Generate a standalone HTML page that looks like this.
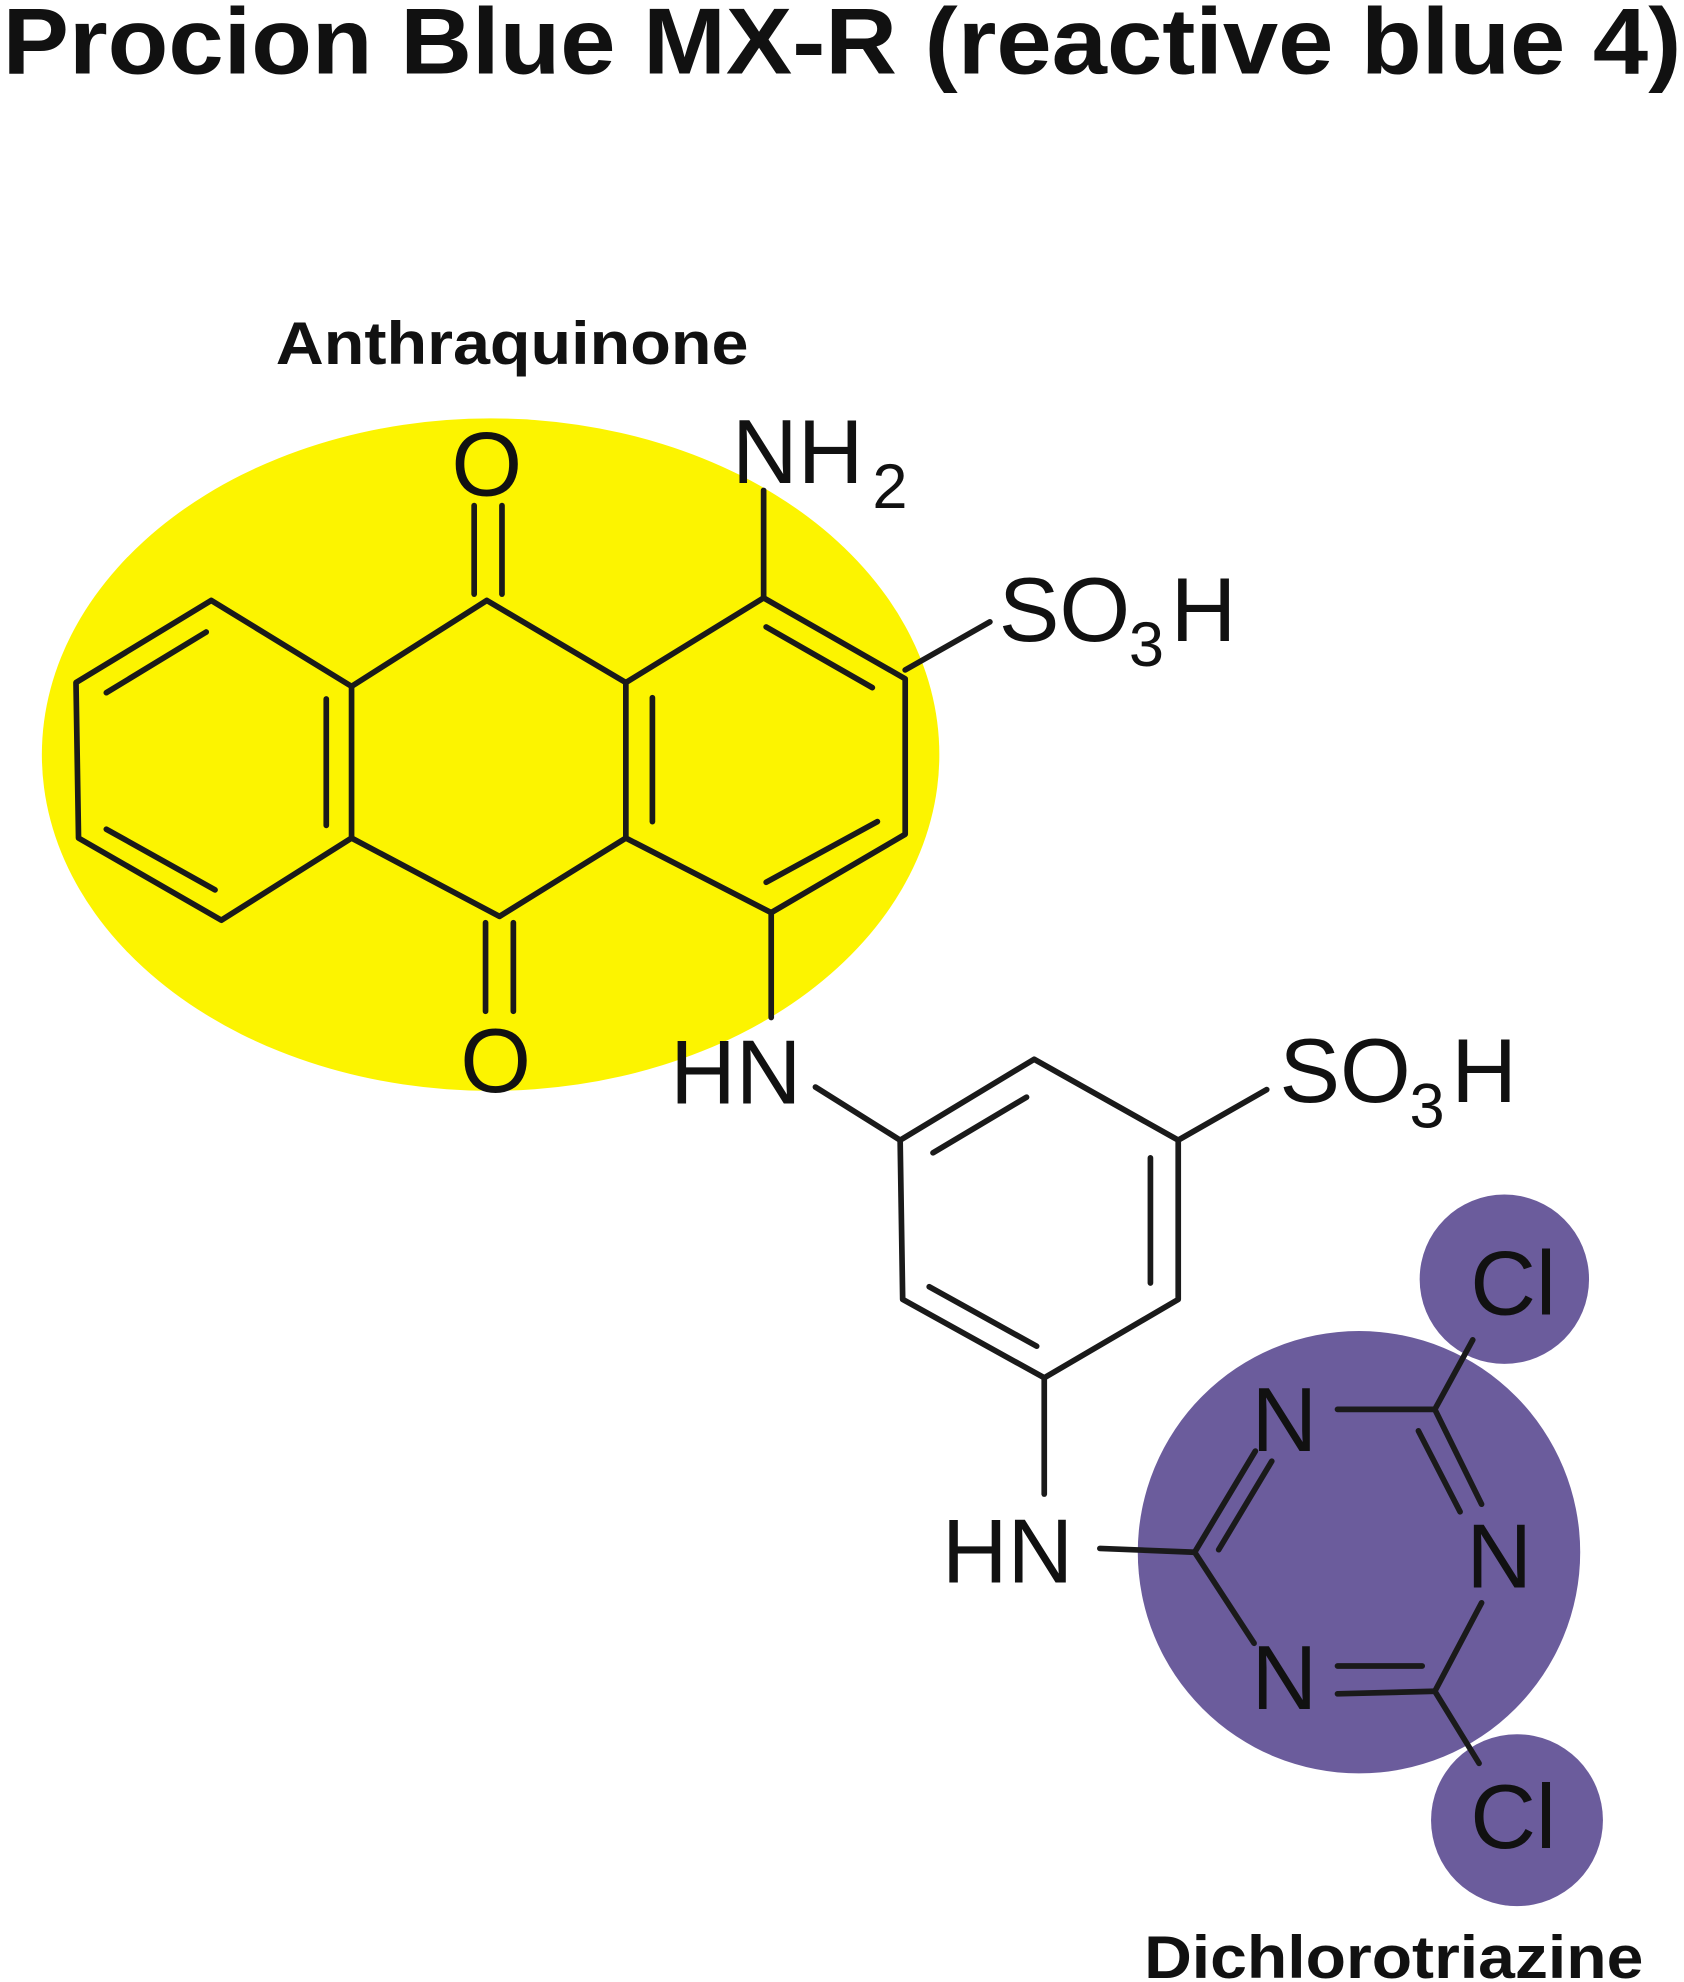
<!DOCTYPE html>
<html><head><meta charset="utf-8"><style>
html,body{margin:0;padding:0;background:#fff;}
svg{display:block;}
text{font-family:"Liberation Sans",Arial,sans-serif;fill:#111;}
</style></head><body>
<svg width="1684" height="1982" viewBox="0 0 1332 1568" xmlns="http://www.w3.org/2000/svg">
<rect width="1332" height="1568" fill="#fff"/>
<text x="2" y="58" font-size="74" font-weight="bold" textLength="1328" lengthAdjust="spacingAndGlyphs">Procion Blue MX-R (reactive blue 4)</text>
<ellipse cx="388" cy="597" rx="355" ry="266" fill="#fcf400"/>
<circle cx="1075" cy="1228" r="175" fill="#6b5c9c"/>
<circle cx="1190" cy="1012" r="67" fill="#6b5c9c"/>
<circle cx="1200" cy="1440" r="68" fill="#6b5c9c"/>
<text x="218" y="288" font-size="48" font-weight="bold" textLength="374" lengthAdjust="spacingAndGlyphs">Anthraquinone</text>
<text x="905" y="1565" font-size="48" font-weight="bold" textLength="395" lengthAdjust="spacingAndGlyphs">Dichlorotriazine</text>
<g stroke="#1a1a1a" stroke-width="4.5" fill="none" stroke-linecap="round" stroke-linejoin="round">
<polygon points="167,475 278,543 278,663 175,728 62,663 60,540"/>
<line x1="84" y1="548" x2="163" y2="500"/>
<line x1="258" y1="553" x2="258" y2="653"/>
<line x1="84" y1="656" x2="170" y2="704"/>
<polyline points="278,543 385,475 495,540"/>
<polyline points="278,663 395,725 495,663"/>
<polygon points="495,540 604,473 716,537 716,660 610,722 495,663"/>
<line x1="516" y1="552" x2="516" y2="650"/>
<line x1="606" y1="496" x2="690" y2="544"/>
<line x1="606" y1="698" x2="694" y2="650"/>
<line x1="375" y1="470" x2="375" y2="400"/><line x1="397" y1="470" x2="397" y2="400"/>
<line x1="384" y1="730" x2="384" y2="800"/><line x1="406" y1="730" x2="406" y2="800"/>
<line x1="604" y1="473" x2="604" y2="388"/>
<line x1="716" y1="530" x2="783" y2="492"/>
<line x1="610" y1="722" x2="610" y2="805"/>
<line x1="645" y1="860" x2="712" y2="902"/>
<polygon points="712,902 818,838 932,902 932,1028 826,1090 714,1028"/>
<line x1="738" y1="912" x2="812" y2="868"/>
<line x1="910" y1="916" x2="910" y2="1015"/>
<line x1="735" y1="1018" x2="820" y2="1065"/>
<line x1="932" y1="902" x2="1002" y2="862"/>
<line x1="826" y1="1090" x2="826" y2="1182"/>
<line x1="870" y1="1225" x2="945" y2="1228"/>
<line x1="945" y1="1228" x2="993" y2="1148"/>
<line x1="964" y1="1226" x2="1006" y2="1156"/>
<line x1="1058" y1="1115" x2="1135" y2="1115"/>
<line x1="1135" y1="1115" x2="1172" y2="1190"/>
<line x1="1122" y1="1132" x2="1155" y2="1196"/>
<line x1="1172" y1="1268" x2="1135" y2="1338"/>
<line x1="1058" y1="1318" x2="1125" y2="1318"/>
<line x1="1058" y1="1340" x2="1135" y2="1338"/>
<line x1="945" y1="1228" x2="992" y2="1300"/>
<line x1="1135" y1="1115" x2="1165" y2="1060"/>
<line x1="1135" y1="1338" x2="1170" y2="1395"/>
</g>
<g font-size="72">
<text x="357" y="392">O</text>
<text x="364" y="864">O</text>
<text x="579" y="382">NH</text><text x="690" y="402" font-size="50">2</text>
<text x="790" y="507">SO</text><text x="893" y="527" font-size="50">3</text><text x="926" y="507">H</text>
<text x="530" y="873">HN</text>
<text x="1012" y="872">SO</text><text x="1115" y="892" font-size="50">3</text><text x="1148" y="872">H</text>
<text x="745" y="1252">HN</text>
<text x="990" y="1148">N</text>
<text x="1160" y="1256">N</text>
<text x="990" y="1352">N</text>
<text x="1163" y="1040">Cl</text>
<text x="1163" y="1462">Cl</text>
</g>
</svg>
</body></html>
